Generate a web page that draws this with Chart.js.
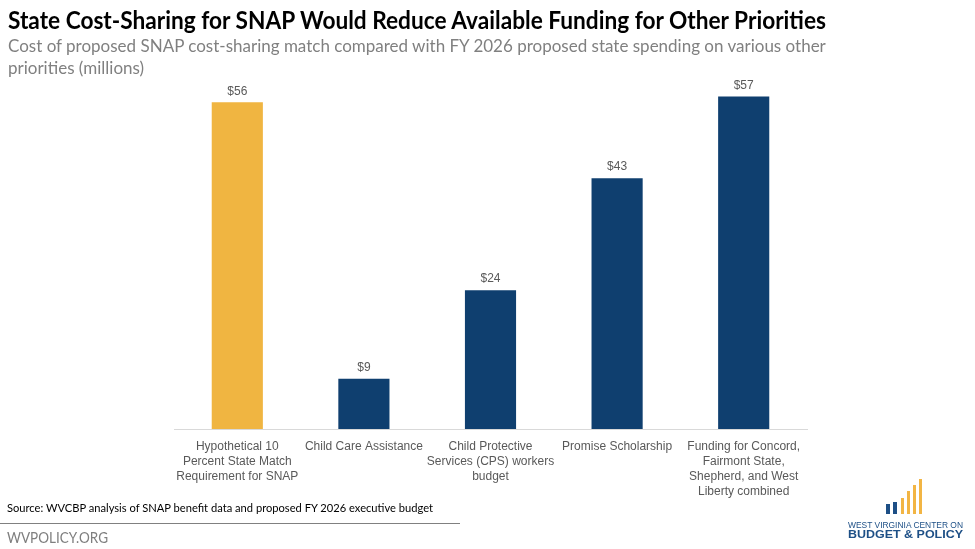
<!DOCTYPE html>
<html>
<head>
<meta charset="utf-8">
<script src="https://cdn.jsdelivr.net/npm/chart.js@4.4.1/dist/chart.umd.min.js"></script>
<style>
  html, body { margin:0; padding:0; background:#fff; }
  body { width:975px; height:549px; position:relative; overflow:hidden; }
  #c { position:absolute; left:0; top:0; }
  .t { position:absolute; white-space:nowrap; transform-origin:0 0; }
  #title { left:8px; top:5px; font-family:Lato, sans-serif; font-weight:700; font-size:24px; color:#000; }
  #sub { left:8px; top:35px; font-family:Lato, sans-serif; font-size:17px; line-height:22px; color:#808080; }
  #src { left:7px; top:500px; font-family:Lato, sans-serif; font-size:12px; color:#000; }
  #rule { position:absolute; left:0; top:523px; width:460px; height:1px; background:#808080; }
  #web { left:7px; top:528px; font-family:Lato, sans-serif; font-size:15px; color:#7f7f7f; }
  #logo { position:absolute; left:846px; top:476px; width:125px; height:66px; }
  .lb { position:absolute; bottom:28px; }
  #l1 { left:2px; top:44.6px; font-family:"Liberation Sans", Arial, sans-serif; font-size:8.5px; line-height:8.5px; color:#1d4f86; }
  #l2 { left:2px; top:52.4px; font-family:"Liberation Sans", Arial, sans-serif; font-weight:700; font-size:11.6px; line-height:11.6px; color:#1d4f86; }
</style>
</head>
<body>
<canvas id="c" width="975" height="549"></canvas>
<div id="title" class="t" data-w="818">State Cost-Sharing for SNAP Would Reduce Available Funding for Other Priorities</div>
<div id="sub" class="t">Cost of proposed SNAP cost-sharing match compared with FY 2026 proposed state spending on various other<br>priorities (millions)</div>
<div id="src" class="t" data-w="426">Source: WVCBP analysis of SNAP benefit data and proposed FY 2026 executive budget</div>
<div id="rule"></div>
<div id="web" class="t" data-w="101">WVPOLICY.ORG</div>
<div id="logo">
  <div class="lb" style="left:40px;width:4px;height:10px;background:#1d4f86"></div>
  <div class="lb" style="left:47px;width:4px;height:12px;background:#1d4f86"></div>
  <div class="lb" style="left:55px;width:3px;height:16px;background:#f2b544"></div>
  <div class="lb" style="left:61px;width:3px;height:23px;background:#f2b544"></div>
  <div class="lb" style="left:67px;width:3px;height:29px;background:#f2b544"></div>
  <div class="lb" style="left:73px;width:3px;height:35px;background:#f2b544"></div>
  <div id="l1" class="t" data-w="115">WEST VIRGINIA CENTER ON</div>
  <div id="l2" class="t" data-w="115">BUDGET &amp; POLICY</div>
</div>
<script>
const categories = [
  ["Hypothetical 10", "Percent State Match", "Requirement for SNAP"],
  ["Child Care Assistance"],
  ["Child Protective", "Services (CPS) workers", "budget"],
  ["Promise Scholarship"],
  ["Funding for Concord,", "Fairmont State,", "Shepherd, and West", "Liberty combined"]
];
const values = [56, 8.6, 23.8, 43, 57];
const barColors = ["#f0b541", "#0f3f6f", "#0f3f6f", "#0f3f6f", "#0f3f6f"];

document.querySelectorAll('[data-w]').forEach(el => {
  const w = el.getBoundingClientRect().width;
  if (w > 0) el.style.transform = 'scaleX(' + (parseFloat(el.dataset.w) / w) + ')';
});

const valueLabels = {
  id: 'valueLabels',
  afterDatasetsDraw(chart) {
    const ctx = chart.ctx;
    const meta = chart.getDatasetMeta(0);
    ctx.save();
    ctx.font = '12px "Liberation Sans", Arial, sans-serif';
    ctx.fillStyle = '#595959';
    ctx.textAlign = 'center';
    ctx.textBaseline = 'bottom';
    meta.data.forEach((bar, i) => {
      ctx.fillText('$' + Math.round(values[i]), bar.x, bar.y - 5);
    });
    ctx.restore();
  }
};

new Chart(document.getElementById('c'), {
  type: 'bar',
  data: {
    labels: categories,
    datasets: [{ data: values, backgroundColor: barColors, borderWidth: 0,
      barPercentage: 0.8, categoryPercentage: 0.505 }]
  },
  options: {
    responsive: false,
    animation: false,
    events: [],
    layout: { padding: { left: 174, right: 168, top: 79, bottom: 0 } },
    plugins: { legend: { display: false }, tooltip: { enabled: false } },
    scales: {
      y: { display: false, min: 0, max: 60 },
      x: {
        grid: { display: false },
        border: { display: true, color: '#d9d9d9', width: 1 },
        ticks: { color: '#595959', padding: 2, maxRotation: 0, autoSkip: false,
          font: { family: '"Liberation Sans", Arial, sans-serif', size: 12, lineHeight: 1.25 } },
        afterFit(scale) { scale.height = 120; }
      }
    }
  },
  plugins: [valueLabels]
});
</script>
</body>
</html>
